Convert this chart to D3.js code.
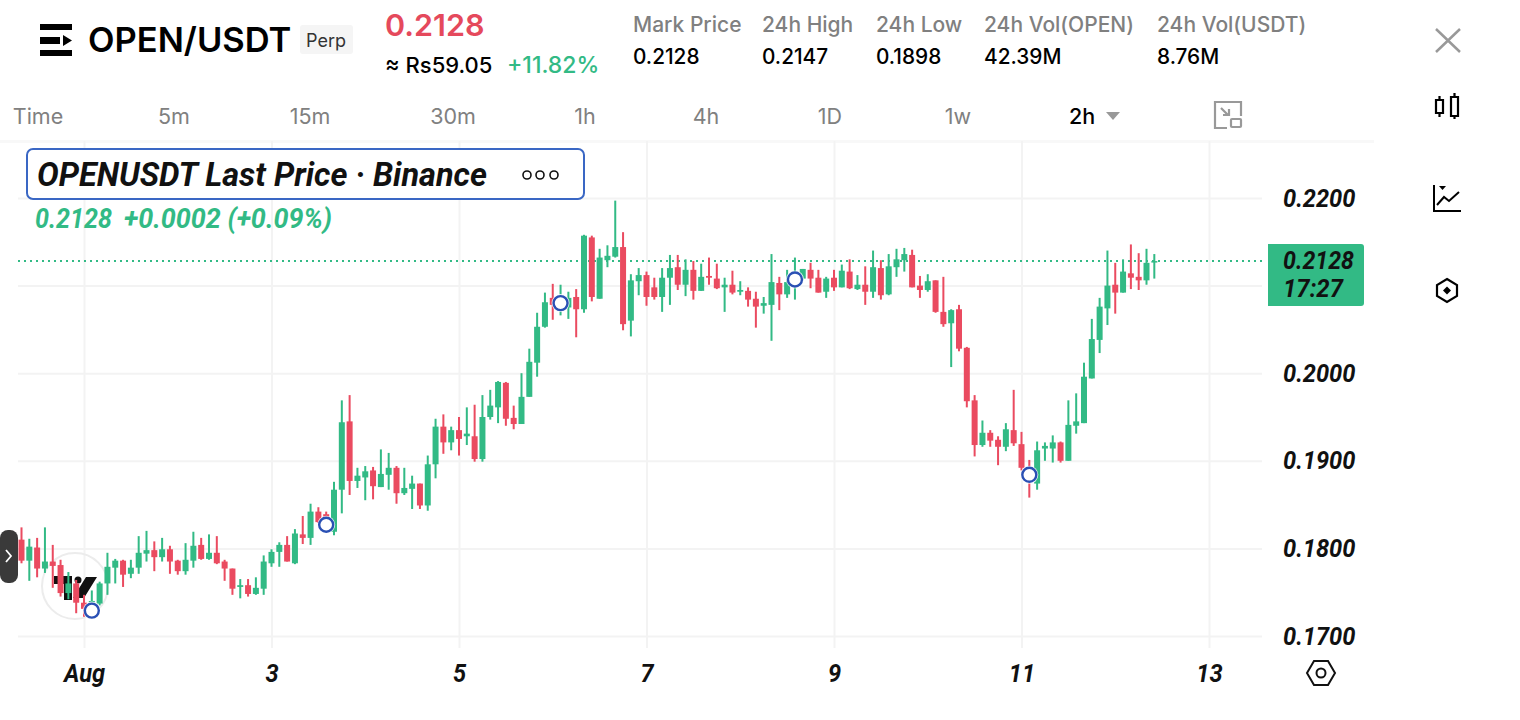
<!DOCTYPE html>
<html>
<head>
<meta charset="utf-8">
<script src="https://cdn.jsdelivr.net/npm/d3@7"></script>
<style>
  html, body { margin: 0; padding: 0; background: #fff; }
  svg { display: block; }
  text { font-family: Inter, "Noto Sans", sans-serif; }
  .din { font-family: Roboto, sans-serif; font-weight: 700; font-style: italic; }
  .grid line { stroke: #f3f3f3; stroke-width: 2; }
  .grid path { display: none; }
  .grid text { font-family: Roboto, sans-serif; font-weight: 700; font-style: italic; font-size: 25px; fill: #111; }
</style>
</head>
<body>
<div id="chart"></div>
<script>
// 2h candles, first bar is Jul 31 08:00
var opens = [0.1810,0.1786,0.1801,0.1777,0.1785,0.1781,0.1749,0.1760,0.1738,0.1730,
0.1737,0.1760,0.1778,0.1786,0.1771,0.1778,0.1794,0.1798,0.1790,0.1799,
0.1786,0.1774,0.1786,0.1804,0.1788,0.1795,0.1785,0.1777,0.1756,0.1758,
0.1748,0.1754,0.1783,0.1796,0.1804,0.1783,0.1816,0.1812,0.1842,0.1839,
0.1819,0.1867,0.1945,0.1877,0.1881,0.1889,0.1870,0.1884,0.1892,0.1863,
0.1868,0.1874,0.1849,0.1896,0.1939,0.1921,0.1935,0.1928,0.1928,0.1902,
0.1950,0.1961,0.1989,0.1949,0.1942,0.1973,0.2012,0.2053,0.2086,0.2077,
0.2075,0.2087,0.2073,0.2155,0.2085,0.2129,0.2133,0.2144,0.2060,0.2105,
0.2112,0.2098,0.2087,0.2109,0.2121,0.2101,0.2118,0.2094,0.2111,0.2108,
0.2098,0.2101,0.2093,0.2094,0.2085,0.2077,0.2078,0.2103,0.2090,0.2104,
0.2108,0.2118,0.2109,0.2093,0.2109,0.2098,0.2116,0.2096,0.2101,0.2093,
0.2120,0.2090,0.2121,0.2129,0.2135,0.2100,0.2095,0.2106,0.2070,0.2057,
0.2073,0.2029,0.1969,0.1918,0.1932,0.1924,0.1916,0.1935,0.1919,0.1892,
0.1874,0.1914,0.1914,0.1921,0.1900,0.1940,0.1943,0.1994,0.2038,0.2074,
0.2101,0.2092,0.2114,0.2110,0.2106,0.2127];
var highs = [0.1824,0.1811,0.1812,0.1824,0.1804,0.1787,0.1773,0.1764,0.1747,0.1752,
0.1762,0.1795,0.1788,0.1787,0.1787,0.1814,0.1820,0.1808,0.1812,0.1803,
0.1787,0.1806,0.1819,0.1812,0.1816,0.1814,0.1787,0.1777,0.1765,0.1765,
0.1767,0.1792,0.1799,0.1807,0.1814,0.1822,0.1837,0.1851,0.1847,0.1842,
0.1876,0.1969,0.1975,0.1892,0.1894,0.1893,0.1913,0.1909,0.1894,0.1892,
0.1883,0.1874,0.1906,0.1948,0.1953,0.1939,0.1950,0.1961,0.1964,0.1975,
0.1981,0.1991,0.1990,0.1963,0.2000,0.2028,0.2069,0.2092,0.2102,0.2101,
0.2093,0.2096,0.2158,0.2157,0.2142,0.2146,0.2197,0.2161,0.2113,0.2120,
0.2116,0.2109,0.2120,0.2135,0.2135,0.2130,0.2128,0.2125,0.2132,0.2125,
0.2109,0.2117,0.2105,0.2098,0.2093,0.2087,0.2136,0.2110,0.2118,0.2132,
0.2119,0.2126,0.2118,0.2110,0.2118,0.2124,0.2130,0.2112,0.2122,0.2140,
0.2129,0.2136,0.2142,0.2143,0.2141,0.2111,0.2113,0.2106,0.2110,0.2073,
0.2078,0.2030,0.1975,0.1946,0.1935,0.1928,0.1943,0.1981,0.1933,0.1901,
0.1922,0.1921,0.1929,0.1922,0.1969,0.1977,0.2012,0.2062,0.2086,0.2140,
0.2126,0.2130,0.2147,0.2137,0.2142,0.2136];
var lows = [0.1783,0.1763,0.1767,0.1772,0.1755,0.1745,0.1742,0.1726,0.1722,0.1725,
0.1735,0.1747,0.1760,0.1756,0.1766,0.1771,0.1785,0.1774,0.1785,0.1771,
0.1770,0.1770,0.1778,0.1787,0.1787,0.1782,0.1763,0.1747,0.1743,0.1745,
0.1747,0.1747,0.1779,0.1779,0.1785,0.1782,0.1805,0.1804,0.1829,0.1823,
0.1815,0.1840,0.1861,0.1869,0.1855,0.1856,0.1870,0.1867,0.1851,0.1861,
0.1845,0.1845,0.1843,0.1880,0.1908,0.1912,0.1906,0.1918,0.1899,0.1899,
0.1947,0.1943,0.1940,0.1936,0.1942,0.1973,0.1996,0.2052,0.2061,0.2066,
0.2062,0.2041,0.2069,0.2082,0.2085,0.2121,0.2132,0.2049,0.2042,0.2089,
0.2077,0.2084,0.2070,0.2078,0.2095,0.2088,0.2084,0.2094,0.2101,0.2096,
0.2070,0.2090,0.2089,0.2076,0.2052,0.2068,0.2037,0.2072,0.2086,0.2084,
0.2106,0.2097,0.2092,0.2086,0.2094,0.2098,0.2096,0.2095,0.2078,0.2086,
0.2084,0.2089,0.2110,0.2116,0.2098,0.2086,0.2093,0.2069,0.2053,0.2007,
0.2025,0.1961,0.1905,0.1916,0.1916,0.1895,0.1911,0.1917,0.1889,0.1858,
0.1867,0.1900,0.1898,0.1898,0.1900,0.1931,0.1943,0.1994,0.2023,0.2055,
0.2068,0.2092,0.2096,0.2095,0.2101,0.2108];
var closes = [0.1786,0.1802,0.1777,0.1785,0.1780,0.1749,0.1760,0.1738,0.1731,0.1740,
0.1760,0.1779,0.1786,0.1770,0.1778,0.1795,0.1798,0.1790,0.1799,0.1785,
0.1774,0.1787,0.1803,0.1788,0.1795,0.1783,0.1777,0.1754,0.1758,0.1748,
0.1755,0.1785,0.1796,0.1804,0.1785,0.1817,0.1812,0.1842,0.1830,0.1832,
0.1867,0.1944,0.1877,0.1883,0.1888,0.1871,0.1885,0.1892,0.1863,0.1869,
0.1874,0.1849,0.1896,0.1939,0.1921,0.1935,0.1925,0.1931,0.1902,0.1950,
0.1963,0.1990,0.1948,0.1942,0.1973,0.2013,0.2053,0.2081,0.2078,0.2088,
0.2086,0.2073,0.2157,0.2087,0.2132,0.2134,0.2144,0.2056,0.2106,0.2112,
0.2087,0.2087,0.2109,0.2120,0.2101,0.2118,0.2094,0.2110,0.2109,0.2097,
0.2101,0.2092,0.2095,0.2084,0.2076,0.2080,0.2104,0.2090,0.2104,0.2116,
0.2119,0.2108,0.2092,0.2108,0.2098,0.2117,0.2097,0.2101,0.2093,0.2121,
0.2089,0.2122,0.2130,0.2136,0.2098,0.2095,0.2105,0.2070,0.2056,0.2072,
0.2028,0.1968,0.1918,0.1932,0.1923,0.1916,0.1936,0.1920,0.1892,0.1883,
0.1912,0.1917,0.1921,0.1900,0.1941,0.1945,0.1996,0.2039,0.2076,0.2100,
0.2092,0.2116,0.2109,0.2106,0.2126,0.2128];

var priceTicks = [0.17, 0.18, 0.19, 0.20, 0.21, 0.22];
var hiddenTick = 0.21; // sits behind the last price badge
var dateTicks = [1, 3, 5, 7, 9, 11, 13];
var dateLabels = ['Aug', '3', '5', '7', '9', '11', '13'];
var markerBars = [9, 39, 69, 99, 129];
var markerPrices = [0.1729, 0.1827, 0.2080, 0.2107, 0.1884];
var lastPrice = 0.2128;

var statLabels = ['Mark Price', '24h High', '24h Low', '24h Vol(OPEN)', '24h Vol(USDT)'];
var statValues = ['0.2128', '0.2147', '0.1898', '42.39M', '8.76M'];
var statX = [633, 762, 876, 984, 1157];
var intervals = ['Time', '5m', '15m', '30m', '1h', '4h', '1D', '1w', '2h'];
var intervalX = [38, 174, 310, 453, 585, 706, 830, 958, 1082];

var green = '#32ba85', red = '#ea4b60', gray = '#808080';
var firstBar = Date.UTC(2025, 6, 31, 8), twoHours = 2 * 3600 * 1000;
var barTime = i => new Date(firstBar + i * twoHours);
var day = d => new Date(Date.UTC(2025, 7, d));

var svg = d3.select('#chart').append('svg').attr('width', 1520).attr('height', 720);

var x = d3.scaleUtc().domain([day(1), day(13)]).range([84, 1209]);
var y = d3.scaleLinear().domain([0.17, 0.22]).range([636, 198]);

// the chart font is narrower than Roboto
function condense(sel, k) {
    sel.each(function () {
        this.setAttribute('textLength', this.getComputedTextLength() * k);
        this.setAttribute('lengthAdjust', 'spacingAndGlyphs');
    });
}

// header
svg.append('path').attr('d', 'M40 24h32v6h-32zM40 37h20v7h-20zM63 35l9 5.5l-9 5.5zM40 50h32v6h-32z').attr('fill', '#000');
svg.append('text').text('OPEN/USDT').attr('x', 88).attr('y', 52).attr('font-size', 34.5).attr('font-weight', 600).attr('fill', '#000');
svg.append('rect').attr('x', 300).attr('y', 25).attr('width', 53).attr('height', 29).attr('rx', 3).attr('fill', '#f5f5f5');
svg.append('text').text('Perp').attr('x', 306).attr('y', 47).attr('font-size', 18).attr('fill', '#333');
svg.append('text').text('0.2128').attr('x', 385).attr('y', 36).attr('font-size', 30.5).attr('font-weight', 600).attr('fill', '#e5495c');
svg.append('text').text('≈ Rs59.05').attr('x', 385).attr('y', 73).attr('font-size', 22).attr('font-weight', 500).attr('fill', '#000');
svg.append('text').text('+11.82%').attr('x', 507).attr('y', 73).attr('font-size', 23).attr('font-weight', 500).attr('fill', green);

statLabels.forEach(function (s, i) {
    svg.append('text').text(s).attr('x', statX[i]).attr('y', 32).attr('font-size', 21).attr('font-weight', 500).attr('fill', gray);
    svg.append('text').text(statValues[i]).attr('x', statX[i]).attr('y', 64).attr('font-size', 20.8).attr('font-weight', 500).attr('fill', '#000');
});

intervals.forEach(function (s, i) {
    svg.append('text').text(s).attr('x', intervalX[i]).attr('y', 124).attr('text-anchor', 'middle').attr('font-size', 21.5)
        .attr('font-weight', s == '2h' ? 500 : 400).attr('fill', s == '2h' ? '#000' : gray);
});
svg.append('path').attr('d', 'M1106 112h14l-7 8z').attr('fill', '#999');
// fullscreen icon
svg.append('path').attr('d', 'M1241 116v-14h-26v26h12M1221 108l7 7M1229 109v6h-6').attr('fill', 'none').attr('stroke', '#999').attr('stroke-width', 2.2);
svg.append('rect').attr('x', 1231).attr('y', 119).attr('width', 10).attr('height', 8).attr('rx', 1).attr('fill', 'none').attr('stroke', '#999').attr('stroke-width', 2.2);

// right side icons
svg.append('path').attr('d', 'M1436 29l24 23M1460 29l-24 23').attr('stroke', '#999').attr('stroke-width', 2.5).attr('fill', 'none');
svg.append('path').attr('d', 'M1436 100h7v13h-7zM1439.5 96v4M1439.5 113v4M1451 97h7v19h-7zM1454.5 93v4M1454.5 116v3')
    .attr('stroke', '#000').attr('stroke-width', 2.2).attr('fill', 'none');
svg.append('path').attr('d', 'M1434 185v26h27M1437 205l7-8l5 4l10-9').attr('stroke', '#000').attr('stroke-width', 2).attr('fill', 'none');
svg.append('path').attr('d', 'M1439 186h7l-3.500 4z').attr('fill', '#000');
svg.append('path').attr('d', 'M1447 279l10 6v11l-10 6l-10-6v-11z').attr('stroke', '#000').attr('stroke-width', 2.2).attr('fill', 'none');
svg.append('path').attr('d', 'M1447 286.500l4 4l-4 4l-4-4z').attr('fill', '#000');

// chart top band
svg.append('rect').attr('x', 0).attr('y', 140).attr('width', 1374).attr('height', 3).attr('fill', '#f8f8f8');

// axes, their tick lines are the grid
var xAxis = svg.append('g').attr('class', 'grid').attr('transform', 'translate(0,648)')
    .call(d3.axisBottom(x).tickValues(dateTicks.map(day)).tickSizeInner(-507).tickSizeOuter(0).tickPadding(16)
        .tickFormat((d, i) => dateLabels[i]));
var yAxis = svg.append('g').attr('class', 'grid').attr('transform', 'translate(1262,0)')
    .call(d3.axisRight(y).tickValues(priceTicks).tickSizeInner(-1244).tickSizeOuter(0).tickPadding(21)
        .tickFormat(d3.format('.4f')));
yAxis.selectAll('.tick').filter(d => d == hiddenTick).select('text').remove();
condense(xAxis.selectAll('text'), .945);
condense(yAxis.selectAll('text'), .945);

// watermark
svg.append('circle').attr('cx', 75).attr('cy', 586).attr('r', 33).attr('fill', 'none').attr('stroke', '#ececec').attr('stroke-width', 2);
svg.append('path').attr('d', 'M54 576h18v24h-8v-16h-10zM86 577h11l-13 21h-11z').attr('fill', '#111');
svg.append('circle').attr('cx', 78).attr('cy', 580).attr('r', 3.500).attr('fill', '#111');

// last price line
svg.append('line').attr('x1', 18).attr('x2', 1264).attr('y1', y(lastPrice)).attr('y2', y(lastPrice))
    .attr('stroke', green).attr('stroke-width', 2).attr('stroke-dasharray', '2 4');

// candles
var candles = svg.append('g').selectAll('g').data(opens).enter().append('g')
    .attr('fill', (d, i) => closes[i] >= d ? green : red);
candles.append('rect').attr('x', (d, i) => x(barTime(i)) - 1).attr('width', 2)
    .attr('y', (d, i) => y(highs[i])).attr('height', (d, i) => y(lows[i]) - y(highs[i]));
candles.append('rect').attr('x', (d, i) => x(barTime(i)) - 3).attr('width', 6)
    .attr('y', (d, i) => y(Math.max(d, closes[i])))
    .attr('height', (d, i) => Math.max(1.5, Math.abs(y(d) - y(closes[i]))));

// markers
var markers = svg.append('g').selectAll('g').data(markerBars).enter().append('g')
    .attr('transform', (d, i) => `translate(${x(barTime(d))},${y(markerPrices[i])})`);
markers.append('circle').attr('r', 9).attr('fill', '#fff').attr('opacity', .85);
markers.append('circle').attr('r', 7).attr('fill', '#fff').attr('stroke', '#2a50b4').attr('stroke-width', 2.4);

// legend box
svg.append('rect').attr('x', 27).attr('y', 149).attr('width', 557).attr('height', 50).attr('rx', 6)
    .attr('fill', '#fff').attr('stroke', '#3a67c4').attr('stroke-width', 2);
svg.append('text').attr('class', 'din').text('OPENUSDT Last Price · Binance').attr('x', 37).attr('y', 186)
    .attr('font-size', 33).attr('fill', '#111').attr('textLength', 450).attr('lengthAdjust', 'spacingAndGlyphs');
[527, 540, 554].forEach(function (cx) {
    svg.append('circle').attr('cx', cx).attr('cy', 175).attr('r', 4).attr('fill', 'none').attr('stroke', '#111').attr('stroke-width', 1.6);
});
svg.append('text').attr('class', 'din').text('0.2128').attr('x', 35).attr('y', 228).attr('font-size', 27).attr('fill', green)
    .attr('textLength', 77).attr('lengthAdjust', 'spacingAndGlyphs');
svg.append('text').attr('class', 'din').text('+0.0002 (+0.09%)').attr('x', 124).attr('y', 228).attr('font-size', 27).attr('fill', green)
    .attr('textLength', 208).attr('lengthAdjust', 'spacingAndGlyphs');

// last price badge
svg.append('path').attr('d', 'M1268 244h93a3 3 0 0 1 3 3v56a3 3 0 0 1-3 3h-93z').attr('fill', green);
svg.append('text').attr('class', 'din').text('0.2128').attr('x', 1283).attr('y', 269).attr('font-size', 25).attr('fill', '#111')
    .attr('textLength', 71).attr('lengthAdjust', 'spacingAndGlyphs');
svg.append('text').attr('class', 'din').text('17:27').attr('x', 1283).attr('y', 297).attr('font-size', 25).attr('fill', '#111')
    .attr('textLength', 60).attr('lengthAdjust', 'spacingAndGlyphs');

// settings hexagon
svg.append('path').attr('d', 'M1314 661h14l7 12l-7 12h-14l-7-12z').attr('stroke', '#111').attr('stroke-width', 2).attr('fill', 'none');
svg.append('circle').attr('cx', 1321).attr('cy', 673).attr('r', 4.500).attr('stroke', '#111').attr('stroke-width', 2).attr('fill', 'none');

// side handle
svg.append('rect').attr('x', 0).attr('y', 530).attr('width', 18).attr('height', 53).attr('rx', 8).attr('fill', '#3a3a3a');
svg.append('path').attr('d', 'M6 550l5 6l-5 6').attr('stroke', '#fff').attr('stroke-width', 1.800).attr('fill', 'none');
</script>
</body>
</html>
